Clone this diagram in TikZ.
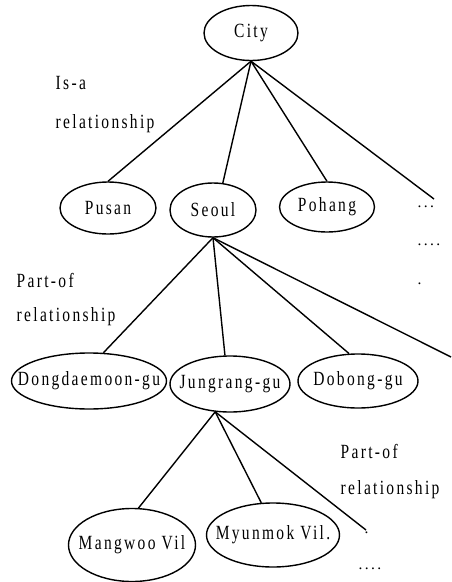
\documentclass[tikz,border=0pt]{standalone}
\usepackage{fontspec}
\usepackage{graphicx}
\setmainfont[LetterSpace=15]{Liberation Serif}
\usetikzlibrary{shapes.geometric}
\newcommand{\tall}[1]{\scalebox{1}[1.3]{#1}}
\begin{document}
\begin{tikzpicture}[x=1pt, y=-1pt, line width=1.4pt, font=\fontsize{15.5}{18}\selectfont]
    \tikzstyle{place}=[ellipse, draw, inner sep=0pt]
    \tikzstyle{rel}=[anchor=base west, inner sep=0pt]
    \useasboundingbox (0,0) rectangle (451,582);
    % cities
    \node (city) [place, minimum width=94pt, minimum height=55pt, label=center:\tall{City}] at (251,33) {};
    \node (pusan) [place, minimum width=96pt, minimum height=52pt, label=center:\tall{Pusan}] at (108,208) {};
    \node (seoul) [place, minimum width=86pt, minimum height=54pt, label=center:\tall{Seoul}] at (213,210) {};
    \node (pohang) [place, minimum width=95pt, minimum height=50pt, label=center:\tall{Pohang}] at (327,207) {};
    \coordinate (more1) at (434,199);
    % districts
    \node (dong) [place, minimum width=155pt, minimum height=56pt, label=center:\tall{Dongdaemoon-gu}] at (89,381) {};
    \node (jung) [place, minimum width=120pt, minimum height=56pt, label=center:\tall{Jungrang-gu}] at (230,384) {};
    \node (dob) [place, minimum width=120pt, minimum height=54pt, label=center:\tall{Dobong-gu}] at (358,381) {};
    \coordinate (more2) at (451,357);
    % villages
    \node (mang) [place, minimum width=127pt, minimum height=73pt, label=center:\tall{Mangwoo Vil}] at (132,545) {};
    \node (myun) [place, minimum width=133pt, minimum height=64pt, label=center:\tall{Myunmok Vil.}] at (273,535) {};
    \coordinate (more3) at (366,530);
    % relationship notes
    \node (isa) [rel] at (55,89) {\tall{Is-a}};
    \node (isarel) [rel] at (55,128) {\tall{relationship}};
    \node (part1) [rel] at (16,287) {\tall{Part-of}};
    \node (partrel1) [rel] at (16,321) {\tall{relationship}};
    \node (part2) [rel] at (340,458) {\tall{Part-of}};
    \node (partrel2) [rel] at (340,494) {\tall{relationship}};
    \node (dots1) [rel] at (417,207) {...};
    \node (dots2) [rel] at (417,245) {....};
    \node (dots3) [rel] at (417,284) {.};
    \node (dots4) [rel] at (364,533) {.};
    \node (dots5) [rel] at (358,569) {....};
    \draw (city.south) -- (pusan.north);
    \draw (city.south) -- (seoul.70);
    \draw (city.south) -- (pohang.north);
    \draw (city.south) -- (more1);
    \draw (seoul.south) -- (dong.63);
    \draw (seoul.south) -- (jung.100);
    \draw (seoul.south) -- (dob.108);
    \draw (seoul.south) -- (more2);
    \draw (jung.242) -- (mang.80);
    \draw (jung.242) -- (myun.110);
    \draw (jung.242) -- (more3);
\end{tikzpicture}
\end{document}
